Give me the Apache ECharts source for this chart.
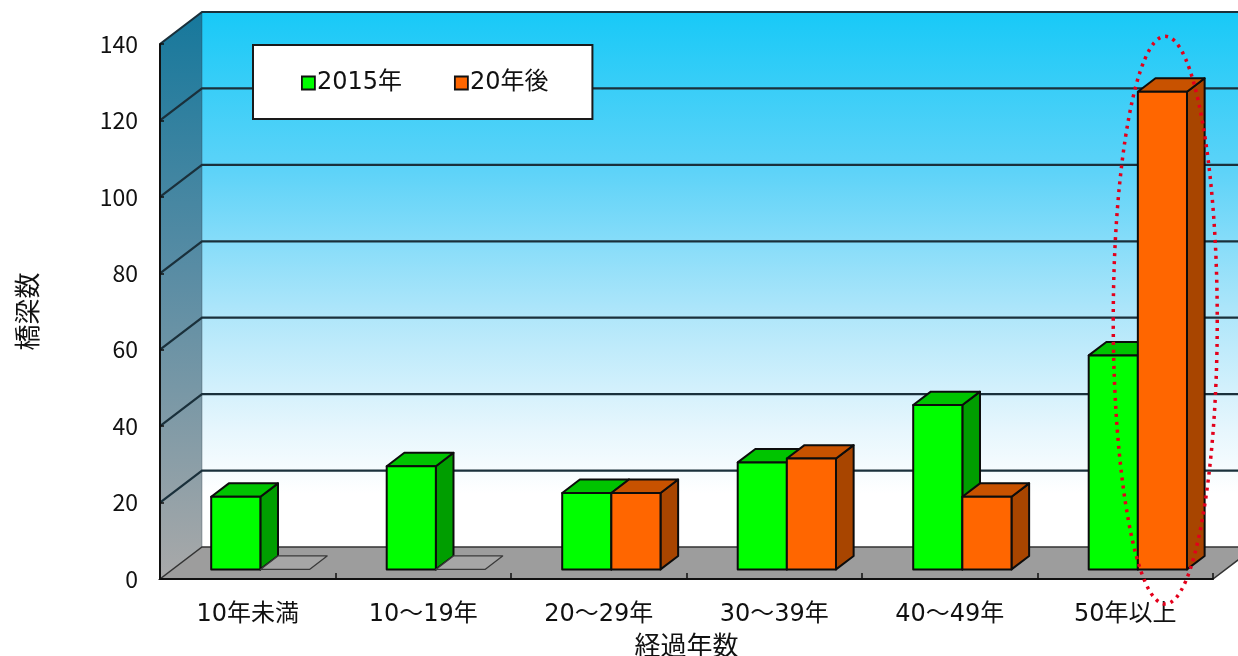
<!DOCTYPE html>
<html>
<head>
<meta charset="utf-8">
<script src="https://cdn.jsdelivr.net/npm/echarts@6/dist/echarts.min.js"></script>
<style>
  html, body { margin: 0; padding: 0; background: #ffffff; }
  #main { width: 1238px; height: 656px; }
</style>
</head>
<body>
<div id="main"></div>
<script>
// 経過年数別の橋梁数（2015年と20年後）
const categories = ['10年未満', '10〜19年', '20〜29年', '30〜39年', '40〜49年', '50年以上'];
const bridges2015 = [19, 27, 20, 28, 43, 56];
const bridgesAfter20 = [0, 0, 20, 29, 19, 125];
const seriesNames = ['2015年', '20年後'];
const yTicks = [0, 20, 40, 60, 80, 100, 120, 140];

// pseudo-3D projection: depth vector of the walls, and where the bars sit in depth
const WALL = [42, -32];
const FRONT = 0.30;
const DEPTH = 0.42;
const BAR_RATIO = 0.28;
const FONT = "'Noto Sans CJK JP', 'Noto Sans', sans-serif";
const WIDE_FONT = "'DejaVu Sans', 'Noto Sans CJK JP', sans-serif";

const GREEN = { front: '#00ff00', top: '#00c400', side: '#009e00' };
const ORANGE = { front: '#ff6600', top: '#c85200', side: '#a84500' };

const chart = echarts.init(document.getElementById('main'), null, { renderer: 'canvas' });

function wallRenderer(params, api) {
  const cs = params.coordSys;
  const L = cs.x, R = cs.x + cs.width;
  const yBot = api.coord([0, 0])[1];
  const yTop = api.coord([0, 140])[1];
  const dx = WALL[0], dy = WALL[1];
  const far = R + dx + 80;
  return {
    type: 'group',
    children: [
      {
        type: 'rect',
        shape: { x: L + dx, y: yTop + dy, width: far - (L + dx), height: yBot - yTop },
        style: {
          fill: new echarts.graphic.LinearGradient(0, 0, 0, 1, [
            { offset: 0, color: '#18c9f7' },
            { offset: 0.3, color: '#5ed3f8' },
            { offset: 0.55, color: '#abe5fa' },
            { offset: 0.78, color: '#e6f6fd' },
            { offset: 0.9, color: '#ffffff' },
            { offset: 1, color: '#ffffff' }
          ])
        }
      },
      {
        type: 'polygon',
        shape: { points: [[L, yBot], [L, yTop], [L + dx, yTop + dy], [L + dx, yBot + dy]] },
        style: {
          fill: new echarts.graphic.LinearGradient(0, 0, 0, 1, [
            { offset: 0, color: '#16789c' },
            { offset: 0.45, color: '#588ca4' },
            { offset: 1, color: '#a9a9a9' }
          ])
        }
      },
      {
        type: 'polygon',
        shape: { points: [[L, yBot], [R, yBot], [R + dx, yBot + dy], [L + dx, yBot + dy]] },
        style: { fill: '#9d9d9d', stroke: '#333333', lineWidth: 1.5 }
      },
      {
        type: 'polyline',
        shape: { points: [[L + dx, yBot + dy], [L + dx, yTop + dy]] },
        style: { stroke: 'rgba(40,60,70,0.35)', lineWidth: 1 }
      }
    ]
  };
}

function gridLineRenderer(params, api) {
  const cs = params.coordSys;
  const L = cs.x, R = cs.x + cs.width;
  const y = api.coord([0, api.value(1)])[1];
  const dx = WALL[0], dy = WALL[1];
  return {
    type: 'polyline',
    shape: { points: [[L, y], [L + dx, y + dy], [R + dx + 80, y + dy]] },
    style: { stroke: api.value(1) === 0 ? 'rgba(0,0,0,0)' : '#1a303b', lineWidth: 2.2, fill: null }
  };
}

function boxRenderer(side, colors) {
  return function (params, api) {
    const cat = api.value(0), val = api.value(1);
    const base = api.coord([cat, 0]);
    const top = api.coord([cat, val]);
    const bw = api.size([1, 0])[0] * BAR_RATIO;
    const fx = WALL[0] * FRONT, fy = WALL[1] * FRONT;
    const dx = WALL[0] * DEPTH, dy = WALL[1] * DEPTH;
    const x0 = base[0] + (side === 0 ? -bw : 0) + fx;
    const x1 = x0 + bw;
    const yb = base[1] + fy, yt = top[1] + fy;
    const edge = { stroke: '#0c0c0c', lineWidth: 2, lineJoin: 'round' };
    if (val === 0) {
      return {
        type: 'polygon',
        shape: { points: [[x0, yb], [x1, yb], [x1 + dx, yb + dy], [x0 + dx, yb + dy]] },
        style: { fill: '#a6a6a6', stroke: '#3a3a3a', lineWidth: 1.3, lineJoin: 'round' }
      };
    }
    return {
      type: 'group',
      children: [
        {
          type: 'polygon',
          shape: { points: [[x1, yb], [x1 + dx, yb + dy], [x1 + dx, yt + dy], [x1, yt]] },
          style: Object.assign({ fill: colors.side }, edge)
        },
        {
          type: 'polygon',
          shape: { points: [[x0, yt], [x1, yt], [x1 + dx, yt + dy], [x0 + dx, yt + dy]] },
          style: Object.assign({ fill: colors.top }, edge)
        },
        {
          type: 'polygon',
          shape: { points: [[x0, yb], [x1, yb], [x1, yt], [x0, yt]] },
          style: Object.assign({ fill: colors.front }, edge)
        }
      ]
    };
  };
}

const option = {
  animation: false,
  backgroundColor: '#ffffff',
  textStyle: { fontFamily: FONT },
  grid: { left: 160, right: 25, top: 44, bottom: 77, containLabel: false, outerBoundsMode: 'none' },
  legend: {
    left: 253,
    top: 45,
    orient: 'horizontal',
    backgroundColor: '#ffffff',
    borderColor: '#1a1a1a',
    borderWidth: 2,
    padding: [26, 44, 24, 48],
    itemGap: 52,
    itemWidth: 13,
    itemHeight: 13,
    textStyle: { fontSize: 24, color: '#111111', fontFamily: WIDE_FONT, padding: [2, 0, 0, -3] },
    data: [
      { name: seriesNames[0], icon: 'rect', itemStyle: { color: GREEN.front, borderColor: '#111', borderWidth: 1.8 } },
      { name: seriesNames[1], icon: 'rect', itemStyle: { color: ORANGE.front, borderColor: '#111', borderWidth: 1.8 } }
    ],
    z: 20
  },
  xAxis: {
    type: 'category',
    data: categories,
    z: 10,
    name: '経過年数',
    nameLocation: 'middle',
    nameGap: 49,
    nameTextStyle: { fontSize: 26, color: '#111111', fontFamily: FONT },
    axisLine: { show: true, lineStyle: { color: '#111111', width: 2 } },
    axisTick: { show: true, inside: true, length: 6, lineStyle: { color: '#111111', width: 1.5 } },
    axisLabel: { fontSize: 24, color: '#111111', margin: 24, fontFamily: WIDE_FONT },
    splitLine: { show: false }
  },
  yAxis: {
    type: 'value',
    min: 0,
    max: 140,
    interval: 20,
    z: 10,
    name: '橋梁数',
    nameLocation: 'middle',
    nameRotate: 90,
    nameGap: 120,
    nameTextStyle: { fontSize: 26, color: '#111111', fontFamily: FONT },
    axisLine: { show: true, lineStyle: { color: '#111111', width: 2 } },
    axisTick: { show: true, inside: true, length: 4, lineStyle: { color: '#111111', width: 1.5 } },
    axisLabel: { fontSize: 23, color: '#111111', margin: 22, fontFamily: FONT },
    splitLine: { show: false }
  },
  series: [
    {
      type: 'custom',
      name: 'walls',
      silent: true,
      z: 1,
      renderItem: wallRenderer,
      data: [[0, 0]]
    },
    {
      type: 'custom',
      name: 'gridlines',
      silent: true,
      z: 1.5,
      renderItem: gridLineRenderer,
      encode: { x: 0, y: 1 },
      data: yTicks.map(v => [0, v])
    },
    {
      type: 'custom',
      name: seriesNames[0],
      z: 3,
      itemStyle: { color: GREEN.front },
      renderItem: boxRenderer(0, GREEN),
      encode: { x: 0, y: 1 },
      data: bridges2015.map((v, i) => [i, v])
    },
    {
      type: 'custom',
      name: seriesNames[1],
      z: 3,
      itemStyle: { color: ORANGE.front },
      renderItem: boxRenderer(1, ORANGE),
      encode: { x: 0, y: 1 },
      data: bridgesAfter20.map((v, i) => [i, v])
    }
  ]
};

chart.setOption(option);

// dotted red ring around the "50年以上" group
const last = categories.length - 1;
const anchor = chart.convertToPixel({ gridIndex: 0 }, [last, 0]);
const peak = chart.convertToPixel({ gridIndex: 0 }, [last, 142]);
const bottomY = anchor[1] + 25;
chart.setOption({
  graphic: [{
    type: 'ellipse',
    z: 50,
    silent: true,
    shape: {
      cx: anchor[0] + 40,
      cy: (peak[1] + bottomY) / 2,
      rx: 52,
      ry: (bottomY - peak[1]) / 2
    },
    style: { fill: null, stroke: '#e3001b', lineWidth: 3.5, lineDash: [3, 5] }
  }]
});
</script>
</body>
</html>
